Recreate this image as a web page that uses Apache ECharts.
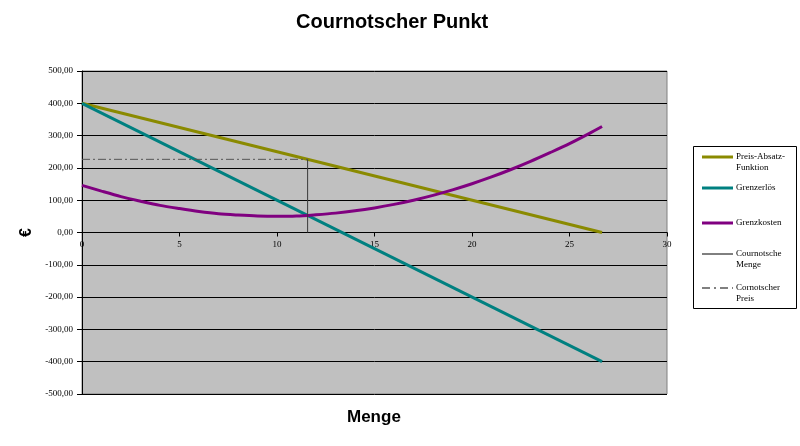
<!DOCTYPE html>
<html>
<head>
<meta charset="utf-8">
<script src="https://cdn.jsdelivr.net/npm/echarts@6/dist/echarts.min.js"></script>
<style>
  html, body { margin: 0; padding: 0; background: #fff; }
  #chart { width: 800px; height: 446px; }
</style>
</head>
<body>
<div id="chart"></div>
<script>
// Menge (x) sampling points for the marginal cost curve
const mengeStuetz = [0, 1, 2, 3, 4, 5, 6, 7, 8, 9, 10, 11, 12, 13, 14, 15, 16, 17, 18, 19, 20, 21, 22, 23, 24, 25, 26, 26.67];
// Grenzkosten in € at those quantities
const grenzkosten = [146, 128, 111, 97, 84, 74, 65, 58, 54, 51, 50, 51, 55, 60, 67, 76, 87, 100, 115, 132, 151, 172, 195, 220, 247, 275, 306, 328];

// Preis-Absatz-Funktion and Grenzerlös (linear, endpoints)
const linearMenge = [0, 26.67];
const preisAbsatz = [400, 0];
const grenzerloes = [400, -400];

// Cournot point
const cournotMenge = 11.57;
const cournotPreis = 226.5;

// Axis settings
const xTicks = { min: 0, max: 30, interval: 5 };
const yTicks = { min: -500, max: 500, interval: 100 };

const pairs = (xs, ys) => xs.map((x, i) => [x, ys[i]]);

const colors = {
  paf: '#8a8a00',
  erloes: '#008080',
  kosten: '#800080',
  menge: '#3a3a3a',
  preis: '#555555'
};

const chart = echarts.init(document.getElementById('chart'), null, { renderer: 'canvas' });

const serif = '"Liberation Serif", "Times New Roman", serif';
const sans = '"Liberation Sans", Arial, sans-serif';

// Plot box in pixels
const gridBox = { left: 82, right: 133, top: 71, bottom: 52 };
const plotHeight = 446 - gridBox.top - gridBox.bottom;
// The x axis runs through y = 0, in the middle of the symmetric value range
const xAxisShift = -plotHeight * (0 - yTicks.min) / (yTicks.max - yTicks.min);

// Legend entries, drawn as a boxed key to the right of the plot
const legendItems = [
  { text: 'Preis-Absatz-\nFunktion', color: colors.paf, width: 3, dash: null, y: 157 },
  { text: 'Grenzerlös', color: colors.erloes, width: 3, dash: null, y: 188 },
  { text: 'Grenzkosten', color: colors.kosten, width: 3, dash: null, y: 223 },
  { text: 'Cournotsche\nMenge', color: '#000', width: 1, dash: null, y: 254 },
  { text: 'Cornotscher\nPreis', color: '#808080', width: 2, dash: [8, 4, 2, 4], y: 288 }
];

const legendGraphics = [
  {
    type: 'rect',
    shape: { x: 693.5, y: 146.5, width: 103, height: 162 },
    style: { fill: '#fff', stroke: '#000', lineWidth: 1 }
  }
];
legendItems.forEach(it => {
  legendGraphics.push({
    type: 'line',
    shape: { x1: 702, y1: it.y, x2: 733, y2: it.y },
    style: { stroke: it.color, lineWidth: it.width, lineDash: it.dash }
  });
  legendGraphics.push({
    type: 'text',
    x: 736,
    y: it.y - 6,
    style: {
      text: it.text,
      fill: '#000',
      font: '9px ' + serif,
      lineHeight: 11,
      verticalAlign: 'top'
    }
  });
});

const option = {
  animation: false,
  backgroundColor: '#fff',
  title: [
    {
      text: 'Cournotscher Punkt',
      left: 296,
      top: 12,
      padding: 0,
      textStyle: { fontFamily: sans, fontWeight: 'bold', fontSize: 20, color: '#000' }
    },
    {
      text: 'Menge',
      left: 347,
      top: 409,
      padding: 0,
      textStyle: { fontFamily: sans, fontWeight: 'bold', fontSize: 17, color: '#000' }
    }
  ],
  grid: {
    left: gridBox.left, right: gridBox.right, top: gridBox.top, bottom: gridBox.bottom,
    show: true,
    backgroundColor: '#c0c0c0',
    borderColor: '#808080',
    borderWidth: 1
  },
  xAxis: {
    type: 'value',
    min: xTicks.min, max: xTicks.max, interval: xTicks.interval,
    offset: xAxisShift,
    axisLine: { onZero: false, lineStyle: { color: '#000', width: 1 } },
    axisTick: { show: true, length: 4, lineStyle: { color: '#000' } },
    axisLabel: { fontFamily: serif, fontSize: 9, color: '#000', margin: 8 },
    splitLine: { show: false }
  },
  yAxis: {
    type: 'value',
    min: yTicks.min, max: yTicks.max, interval: yTicks.interval,
    name: '€',
    nameLocation: 'middle',
    nameGap: 44,
    nameRotate: 90,
    nameTextStyle: { fontFamily: sans, fontWeight: 'bold', fontSize: 16, color: '#000' },
    axisLine: { show: true, onZero: false, lineStyle: { color: '#000', width: 1 } },
    axisTick: { show: true, length: 5, lineStyle: { color: '#000' } },
    axisLabel: {
      fontFamily: serif, fontSize: 9, color: '#000', margin: 9,
      formatter: v => v.toFixed(2).replace('.', ',')
    },
    splitLine: { show: true, lineStyle: { color: '#000', width: 1 } }
  },
  graphic: legendGraphics,
  series: [
    {
      name: 'Preis-Absatz-Funktion',
      type: 'line',
      data: pairs(linearMenge, preisAbsatz),
      showSymbol: false,
      lineStyle: { color: colors.paf, width: 3 }
    },
    {
      name: 'Grenzerlös',
      type: 'line',
      data: pairs(linearMenge, grenzerloes),
      showSymbol: false,
      lineStyle: { color: colors.erloes, width: 3 }
    },
    {
      name: 'Grenzkosten',
      type: 'line',
      data: pairs(mengeStuetz, grenzkosten),
      smooth: 0.3,
      showSymbol: false,
      lineStyle: { color: colors.kosten, width: 3 }
    },
    {
      name: 'Cournotsche Menge',
      type: 'line',
      data: [[cournotMenge, 0], [cournotMenge, cournotPreis]],
      showSymbol: false,
      lineStyle: { color: colors.menge, width: 1 }
    },
    {
      name: 'Cornotscher Preis',
      type: 'line',
      data: [[0, cournotPreis], [cournotMenge, cournotPreis]],
      showSymbol: false,
      lineStyle: { color: colors.preis, width: 1, type: [8, 3, 2, 3] }
    }
  ]
};

chart.setOption(option);
</script>
</body>
</html>
